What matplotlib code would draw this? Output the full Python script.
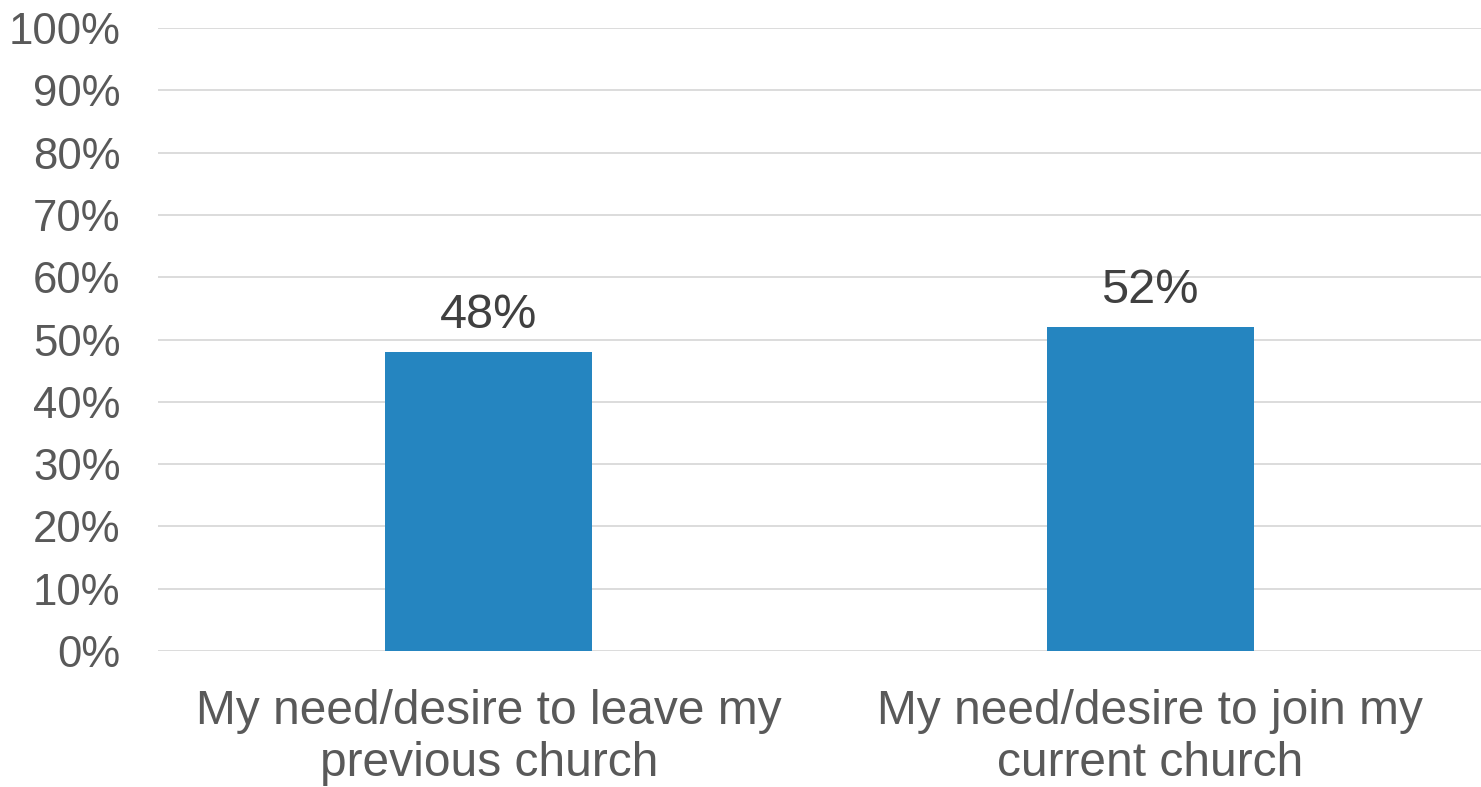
import matplotlib.pyplot as plt
from matplotlib.ticker import PercentFormatter

# Data
categories = ["My need/desire to leave my\nprevious church",
              "My need/desire to join my\ncurrent church"]
values = [48, 52]
yticks = [0, 10, 20, 30, 40, 50, 60, 70, 80, 90, 100]

plt.rcParams["font.family"] = ["Liberation Sans", "DejaVu Sans"]

fig = plt.figure(figsize=(14.81, 7.87), dpi=100)
ax = fig.add_axes([0.1067, 0.1728, 0.8933, 0.7916])

x = range(len(categories))
bars = ax.bar(x, values, width=0.313, color="#2585C0", zorder=3)

for b, v in zip(bars, values):
    ax.text(b.get_x() + b.get_width() / 2, v + 2.3, f"{v}%",
            ha="center", va="bottom", fontsize=35, color="#404040")

ax.set_xlim(-0.5, 1.5)
ax.set_ylim(0, 100)
ax.set_yticks(yticks)
ax.yaxis.set_major_formatter(PercentFormatter(decimals=0))
ax.set_xticks(list(x))
ax.set_xticklabels(categories, fontsize=34.5, color="#595959", linespacing=1.2)
ax.tick_params(axis="y", labelsize=31.5, labelcolor="#595959", length=0, pad=27)
ax.tick_params(axis="x", length=0, pad=27)
for lbl in ax.get_yticklabels():
    lbl.set_horizontalalignment("right")

ax.grid(axis="y", color="#D9D9D9", linewidth=1.3, zorder=0)
for s in ax.spines.values():
    s.set_visible(False)

fig.savefig("out.png", dpi=100)
plt.close()
